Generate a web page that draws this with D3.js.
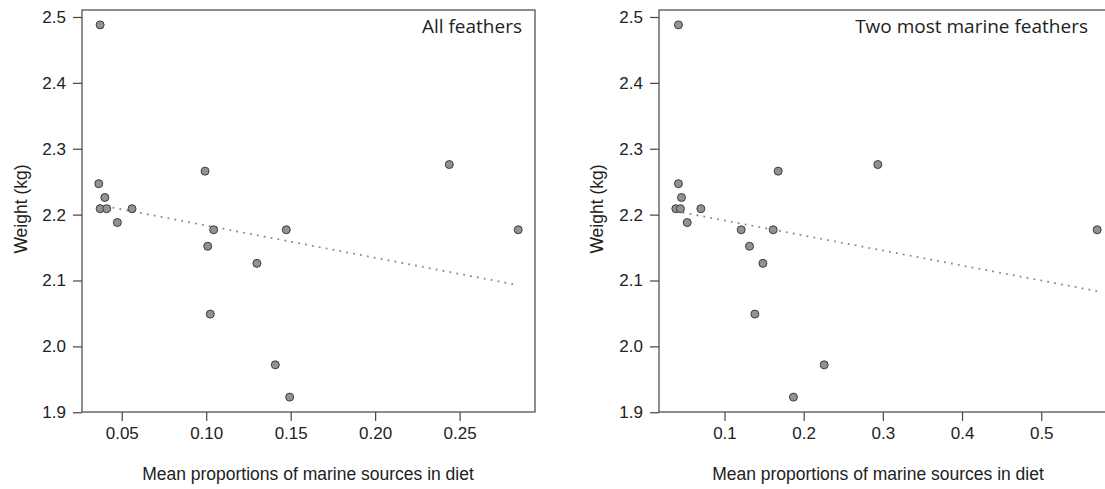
<!DOCTYPE html>
<html lang="en">
<head>
<meta charset="utf-8">
<script src="https://d3js.org/d3.v7.min.js"></script>
<style>
  body { margin: 0; background: #fff; }
  text { font-family: "Liberation Sans", Arial, sans-serif; fill: #222; }
</style>
</head>
<body>
<script>
// weights and the two diet estimates, same bird order
var weight   = [2.488, 2.247, 2.226, 2.209, 2.209, 2.188, 2.209, 2.266, 2.177, 2.152, 2.126, 2.049, 1.972, 1.923, 2.177, 2.276, 2.177];
var propAll  = [0.0372, 0.0364, 0.0400, 0.0372, 0.0411, 0.0474, 0.0561, 0.0993, 0.1044, 0.1009, 0.1300, 0.1024, 0.1409, 0.1494, 0.1474, 0.2439, 0.2847];
var propTwo  = [0.0419, 0.0419, 0.0457, 0.0386, 0.0444, 0.0529, 0.0702, 0.1678, 0.1211, 0.1316, 0.1485, 0.1384, 0.2259, 0.1871, 0.1615, 0.2937, 0.5706];
var yTicks   = [1.9, 2.0, 2.1, 2.2, 2.3, 2.4, 2.5];
var xTicksAll = [0.05, 0.10, 0.15, 0.20, 0.25];
var xTicksTwo = [0.1, 0.2, 0.3, 0.4, 0.5];

const W = 1105, H = 489;
const svg = d3.select("body").append("svg")
  .attr("width", W).attr("height", H);

// R style axis limits: data range plus 4% each side
function padded(v) {
  var e = d3.extent(v), p = (e[1] - e[0]) * 0.04;
  return [e[0] - p, e[1] + p];
}

// least squares line
function fit(xs, ys) {
  var mx = d3.mean(xs), my = d3.mean(ys);
  var sxy = d3.sum(xs, (x, i) => (x - mx) * (ys[i] - my));
  var sxx = d3.sum(xs, x => (x - mx) * (x - mx));
  var b = sxy / sxx;
  return { a: my - b * mx, b: b };
}

var panels = [
  { xs: propAll, ticks: xTicksAll, fmt: d3.format(".2f"), left: 82, right: 535, labelX: 308,
    ylabX: 27, title: "All feathers", titleX: 522 },
  { xs: propTwo, ticks: xTicksTwo, fmt: d3.format(".1f"), left: 659, right: 1114, labelX: 878,
    ylabX: 603, title: "Two most marine feathers", titleX: 1088 }
];

const plotTop = 10, plotBottom = 412;

panels.forEach(function(p) {
  var x = d3.scaleLinear().domain(padded(p.xs)).range([p.left, p.right]);
  var y = d3.scaleLinear().domain(padded(weight)).range([plotBottom, plotTop]);
  var g = svg.append("g");

  // box
  g.append("rect")
    .attr("x", p.left).attr("y", plotTop)
    .attr("width", p.right - p.left).attr("height", plotBottom - plotTop)
    .attr("fill", "none").attr("stroke", "#444").attr("stroke-width", 1.2);

  // axes
  var xa = g.append("g").attr("transform", "translate(0," + plotBottom + ")")
    .call(d3.axisBottom(x).tickValues(p.ticks).tickFormat(p.fmt).tickSize(9).tickPadding(6));
  var ya = g.append("g").attr("transform", "translate(" + p.left + ",0)")
    .call(d3.axisLeft(y).tickValues(yTicks).tickFormat(d3.format(".1f")).tickSize(9).tickPadding(7));
  [xa, ya].forEach(function(a) {
    a.select(".domain").remove();
    a.selectAll("line").attr("stroke", "#444").attr("stroke-width", 1.2);
    a.selectAll("text").attr("font-size", 17).attr("fill", "#1a1a1a")
      .style("font-family", "'Liberation Sans', Arial, sans-serif");
  });

  // regression line
  var f = fit(p.xs, weight);
  var ex = d3.extent(p.xs);
  g.append("path")
    .attr("d", d3.line()([[x(ex[0]), y(f.a + f.b * ex[0])], [x(ex[1]), y(f.a + f.b * ex[1])]]))
    .attr("stroke", "#8a8a8a").attr("stroke-width", 1.8)
    .attr("stroke-dasharray", "1.8,5.2").attr("fill", "none");

  // points
  g.selectAll("circle").data(p.xs).enter().append("circle")
    .attr("cx", d => x(d))
    .attr("cy", (d, i) => y(weight[i]))
    .attr("r", 4)
    .attr("fill", "#929292").attr("stroke", "#3c3c3c").attr("stroke-width", 1);

  // labels
  g.append("text").attr("x", p.labelX).attr("y", 480)
    .attr("text-anchor", "middle").attr("font-size", 17.5)
    .text("Mean proportions of marine sources in diet");
  g.append("text")
    .attr("transform", "translate(" + p.ylabX + "," + ((plotTop + plotBottom) / 2 - 2) + ") rotate(-90)")
    .attr("text-anchor", "middle").attr("font-size", 17.5)
    .text("Weight (kg)");
  g.append("text").attr("x", p.titleX).attr("y", 33)
    .attr("text-anchor", "end").attr("font-size", 19)
    .style("font-family", "'Open Sans', sans-serif").attr("fill", "#111")
    .text(p.title);
});
</script>
</body>
</html>
